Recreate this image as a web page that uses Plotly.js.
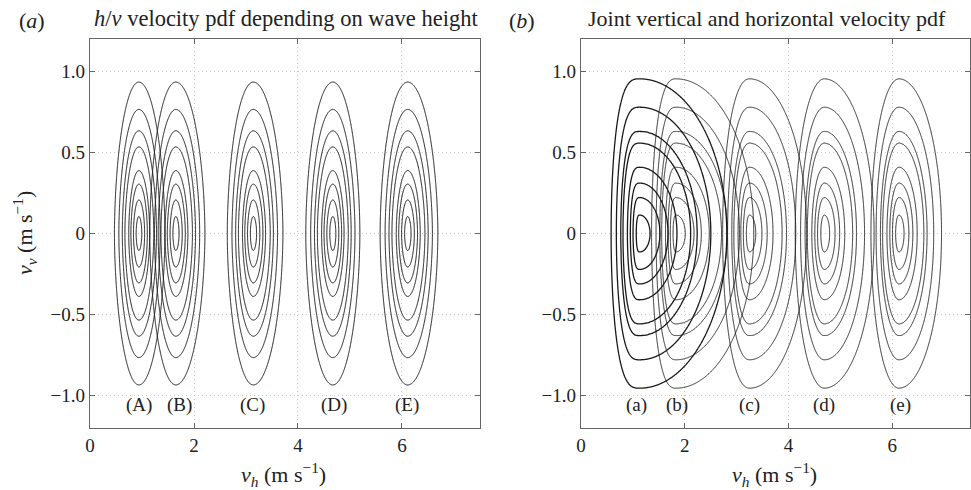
<!DOCTYPE html>
<html><head><meta charset="utf-8">
<script src="https://cdn.plot.ly/plotly-3.0.1.min.js"></script>
<style>html,body{margin:0;padding:0;background:#fff}#chart{width:971px;height:490px}</style>
</head><body><div id="chart"></div>
<script>
// ---------- Panel (a): h/v velocity pdf depending on wave height ----------
const labelsA = ['(A)', '(B)', '(C)', '(D)', '(E)'];
const centersA = [0.94, 1.65, 3.14, 4.67, 6.11];      // v_h of pdf peak
const labelXA = [0.94, 1.73, 3.13, 4.69, 6.09];
const leftWidthA = [0.47, 0.50, 0.50, 0.52, 0.53];     // half-extent of outer contour, left
const rightWidthA = [0.50, 0.56, 0.57, 0.52, 0.58];    // half-extent of outer contour, right
const levelsA = [0.105, 0.207, 0.305, 0.387, 0.535, 0.633, 0.765, 0.934]; // v_v crossings of contours

// ---------- Panel (b): joint vertical and horizontal velocity pdf ----------
const labelsB = ['(a)', '(b)', '(c)', '(d)', '(e)'];
const centersB = [1.13, 1.83, 3.25, 4.69, 6.13];
const labelXB = [1.07, 1.85, 3.24, 4.68, 6.15];
const leftWidthB = [0.55, 0.47, 0.52, 0.56, 0.54];
const rightWidthB = [1.68, 1.50, 1.10, 0.96, 0.82];
const rightGrowthB = [1.0, 1.0, 1.05, 1.05, 1.0];
const leftShapeB = [3.0, 2.6, 2.2, 2.0, 2.0];
const rightShapeB = [2.0, 2.0, 2.0, 2.0, 2.0];
const levelsB = [0.114, 0.222, 0.311, 0.408, 0.559, 0.629, 0.779, 0.954];

const xTickVals = [0, 2, 4, 6];
const yTickVals = [-1, -0.5, 0, 0.5, 1];
const yTickText = ['\u22121.0', '\u22120.5', '0', '0.5', '1.0'];

function levelIndex(r, levels) {
  if (r <= levels[0]) return r / levels[0];
  for (let i = 0; i < levels.length - 1; i++) {
    if (r <= levels[i + 1]) return i + 1 + (r - levels[i]) / (levels[i + 1] - levels[i]);
  }
  return levels.length + (r - levels[levels.length - 1]) / 0.2;
}

function family(cx, wL, wR, gR, qL, qR, p, levels, xa, ya, lw) {
  const r0 = levels[levels.length - 1];
  const xs = [], ys = [];
  for (let x = cx - wL * 1.35; x <= cx + wR * 1.35; x += 0.008) xs.push(x);
  for (let y = -1.15; y <= 1.1501; y += 0.01) ys.push(y);
  const z = ys.map(y => xs.map(x => {
    const d = x - cx;
    const w = d < 0 ? wL : wR, g = d < 0 ? 1 : gR, q = d < 0 ? qL : qR;
    const ad = Math.abs(d), ay = Math.abs(y);
    let lo = 1e-4, hi = 4;
    for (let i = 0; i < 40; i++) {
      const m = Math.sqrt(lo * hi);
      const f = Math.pow(ad / (w * Math.pow(m / r0, g)), q) + Math.pow(ay / m, p) - 1;
      if (f > 0) lo = m; else hi = m;
    }
    return levelIndex(Math.sqrt(lo * hi), levels);
  }));
  return {
    type: 'contour', x: xs, y: ys, z: z, xaxis: xa, yaxis: ya,
    contours: {coloring: 'none', start: 1, end: levels.length, size: 1},
    line: {color: '#1a1a1a', width: lw, smoothing: 0.6},
    showscale: false, hoverinfo: 'skip'
  };
}

const traces = [];
centersA.forEach((c, i) => traces.push(family(c, leftWidthA[i], rightWidthA[i], 1, 2, 2, 1.8, levelsA, 'x', 'y', 1)));
centersB.forEach((c, i) => traces.push(family(c, leftWidthB[i], rightWidthB[i], rightGrowthB[i], leftShapeB[i], rightShapeB[i], 2, levelsB, 'x2', 'y2', i === 0 ? 1.3 : 0.9)));

const serif = '"Liberation Serif", serif';
const tickFont = {family: serif, size: 19, color: '#222'};
const gridDash = '1px,3px';
function xAxis(dom, anchor) {
  return {domain: dom, anchor: anchor, range: [0, 7.5], tickvals: xTickVals, ticks: 'inside', ticklen: 5,
    tickcolor: '#666', mirror: 'ticks', showline: true, linecolor: '#666', linewidth: 1.3,
    showgrid: true, gridcolor: '#c8c8c8', griddash: gridDash, gridwidth: 1, zeroline: false, tickfont: tickFont, fixedrange: true};
}
function yAxis(anchor) {
  return {domain: [0.1265, 0.9204], anchor: anchor, range: [-1.2, 1.2], tickvals: yTickVals, ticktext: yTickText,
    ticks: 'inside', ticklen: 5, tickcolor: '#666', mirror: 'ticks', showline: true, linecolor: '#666', linewidth: 1.3,
    showgrid: true, gridcolor: '#c8c8c8', griddash: gridDash, gridwidth: 1, zeroline: false, tickfont: tickFont, fixedrange: true};
}

const ann = [];
const big = {family: serif, size: 22, color: '#222'};
ann.push({xref: 'paper', yref: 'paper', x: 32 / 971, y: 1 - 20 / 490, text: '(<i>a</i>)', showarrow: false, font: big, xanchor: 'center', yanchor: 'middle'});
ann.push({xref: 'paper', yref: 'paper', x: 286 / 971, y: 1 - 18 / 490, text: '<i>h</i>/<i>v</i> velocity pdf depending on wave height', showarrow: false, font: {family: serif, size: 22.5, color: '#222'}, xanchor: 'center', yanchor: 'middle'});
ann.push({xref: 'paper', yref: 'paper', x: 522 / 971, y: 1 - 20 / 490, text: '(<i>b</i>)', showarrow: false, font: big, xanchor: 'center', yanchor: 'middle'});
ann.push({xref: 'paper', yref: 'paper', x: 767 / 971, y: 1 - 18 / 490, text: 'Joint vertical and horizontal velocity pdf', showarrow: false, font: {family: serif, size: 22, color: '#222'}, xanchor: 'center', yanchor: 'middle'});
ann.push({xref: 'paper', yref: 'paper', x: 283 / 971, y: 1 - 474 / 490, text: '<i>v</i><sub><i>h</i></sub> (m s<sup>\u22121</sup>)', showarrow: false, font: big, xanchor: 'center', yanchor: 'middle'});
ann.push({xref: 'paper', yref: 'paper', x: 774 / 971, y: 1 - 474 / 490, text: '<i>v</i><sub><i>h</i></sub> (m s<sup>\u22121</sup>)', showarrow: false, font: big, xanchor: 'center', yanchor: 'middle'});
ann.push({xref: 'paper', yref: 'paper', x: 25 / 971, y: 1 - 233 / 490, text: '<i>v</i><sub><i>v</i></sub> (m s<sup>\u22121</sup>)', textangle: -90, showarrow: false, font: big, xanchor: 'center', yanchor: 'middle'});
labelsA.forEach((t, i) => ann.push({xref: 'x', yref: 'y', x: labelXA[i], y: -1.06, text: t, showarrow: false, font: {family: serif, size: 19, color: '#222'}}));
labelsB.forEach((t, i) => ann.push({xref: 'x2', yref: 'y2', x: labelXB[i], y: -1.06, text: t, showarrow: false, font: {family: serif, size: 19, color: '#222'}}));

const layout = {
  width: 971, height: 490, margin: {l: 0, r: 0, t: 0, b: 0},
  paper_bgcolor: '#fff', plot_bgcolor: '#fff', showlegend: false,
  font: {family: serif},
  xaxis: xAxis([0.0927, 0.4943], 'y'), yaxis: yAxis('x'),
  xaxis2: xAxis([0.5984, 0.999], 'y2'), yaxis2: yAxis('x2'),
  annotations: ann
};
Plotly.newPlot('chart', traces, layout, {displayModeBar: false, staticPlot: true});
</script></body></html>
